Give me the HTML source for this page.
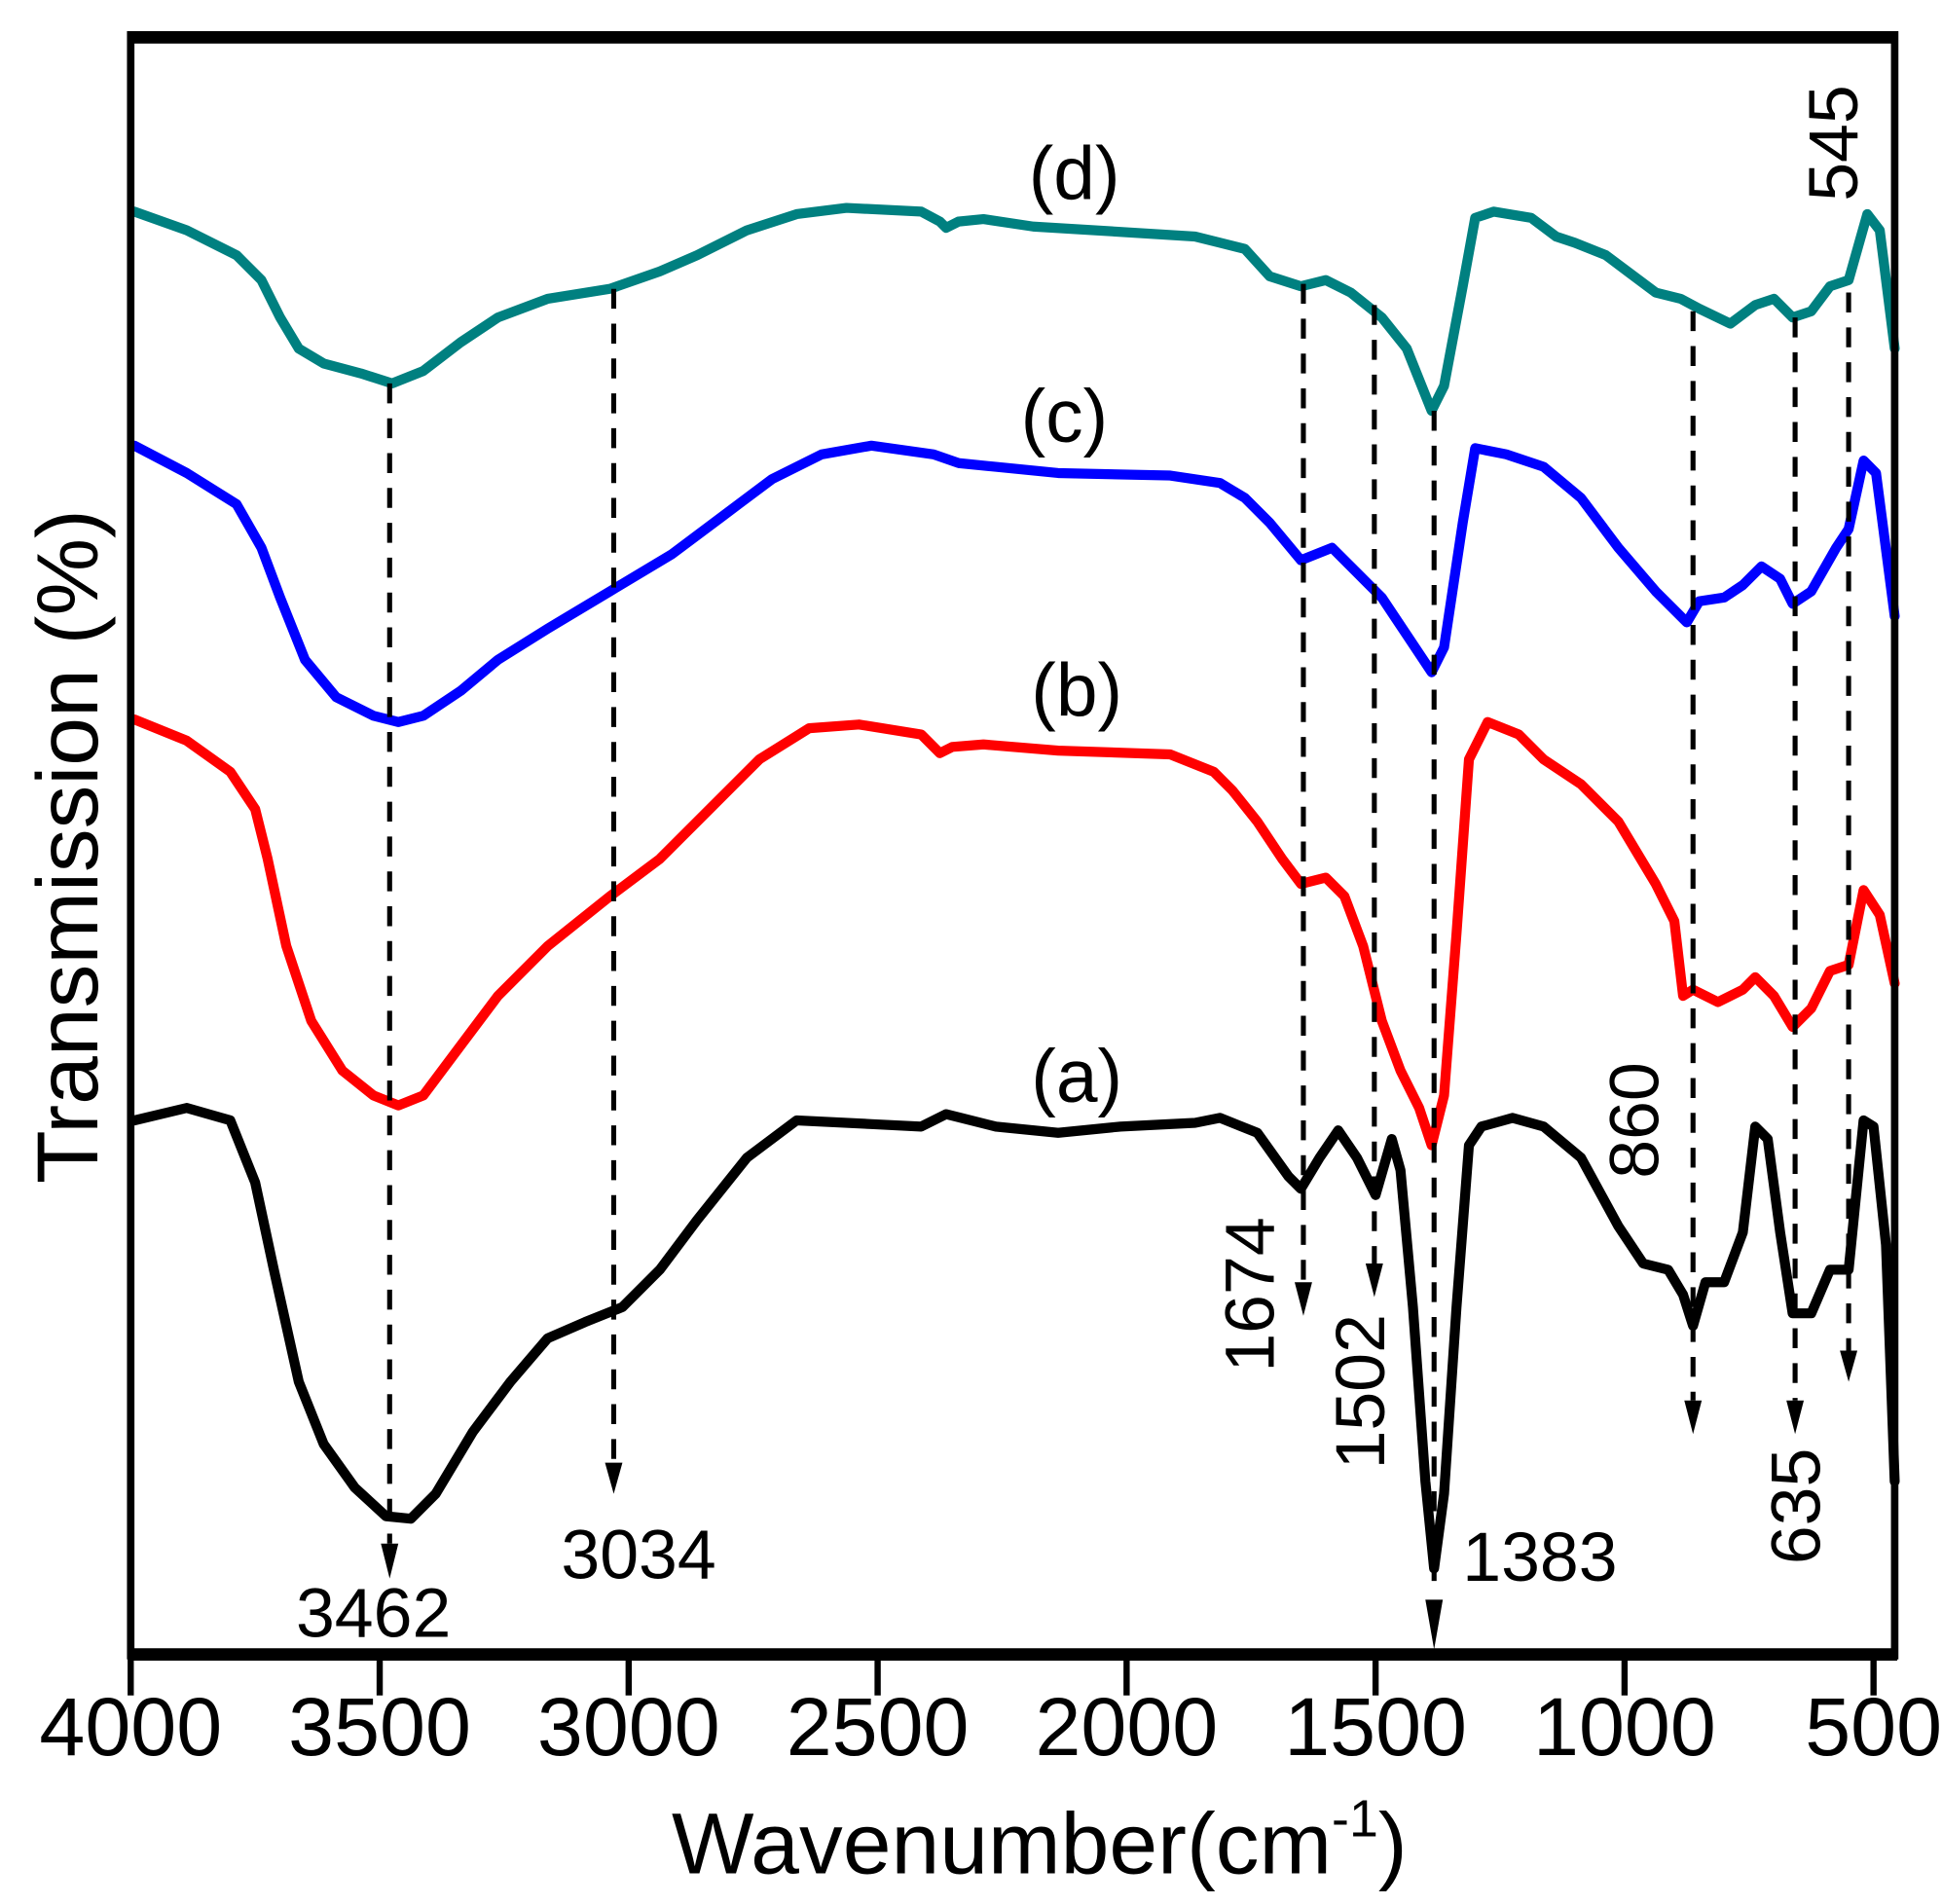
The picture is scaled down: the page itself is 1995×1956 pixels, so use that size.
<!DOCTYPE html>
<html><head><style>html,body{margin:0;padding:0;background:#fff}svg{display:block}</style></head>
<body>
<svg width="1995" height="1956" viewBox="0 0 1560 1529.5" preserveAspectRatio="none" xmlns="http://www.w3.org/2000/svg" font-family="Liberation Sans, Arial, sans-serif">
<rect width="1560" height="1530" fill="#fff"/>
<g fill="none" stroke-linejoin="round" stroke-linecap="round" stroke-width="8">
<polyline stroke="#008080" points="108,170 150,185 190,205 210,225 225,255 240,280 260,292 290,300 315,308 340,298 370,275 400,255 440,240 490,232 530,218 560,205 600,185 640,172 680,167 740,170 755,178 760,183 770,178 790,176 830,182 880,185 960,190 1000,200 1020,222 1045,230 1065,225 1085,235 1110,255 1130,280 1150,330 1160,310 1175,230 1185,175 1200,170 1230,175 1250,190 1265,195 1290,205 1310,220 1330,235 1350,240 1365,248 1390,260 1410,245 1425,240 1440,255 1455,250 1470,230 1485,225 1500,172 1510,185 1522,280"/>
<polyline stroke="#0000ff" points="108,358 150,380 190,405 210,440 225,480 245,530 270,560 300,575 320,580 340,575 370,555 400,530 440,505 490,475 540,445 580,415 620,385 660,365 700,358 750,365 770,372 800,375 850,380 940,382 980,388 1000,400 1020,420 1045,450 1070,440 1090,460 1110,480 1130,510 1150,540 1160,520 1175,420 1185,360 1210,365 1240,375 1270,400 1300,440 1330,475 1355,500 1365,483 1385,480 1400,470 1415,455 1430,465 1440,485 1455,475 1475,440 1485,425 1497,370 1507,380 1522,495"/>
<polyline stroke="#ff0000" points="108,578 150,595 185,620 205,650 215,690 230,760 250,820 275,860 300,880 320,888 340,880 370,840 400,800 440,760 490,720 530,690 570,650 610,610 650,585 690,582 740,590 755,605 765,600 790,598 850,603 940,606 975,620 990,635 1010,660 1030,690 1045,710 1065,705 1080,720 1095,760 1110,820 1125,860 1140,890 1150,920 1160,880 1170,750 1180,610 1195,580 1220,590 1240,610 1270,630 1300,660 1330,710 1345,740 1352,800 1360,795 1380,805 1400,795 1410,785 1425,800 1440,825 1455,810 1470,780 1485,775 1497,715 1510,735 1522,790"/>
<polyline stroke="#000" points="108,900 150,890 185,900 205,950 220,1020 240,1110 260,1160 285,1195 310,1218 330,1220 350,1200 380,1150 410,1110 440,1075 470,1062 500,1050 530,1020 560,980 600,930 640,900 700,903 740,905 760,895 800,905 850,910 900,905 960,902 980,898 1010,910 1035,945 1045,955 1060,930 1075,908 1090,930 1105,960 1118,915 1125,940 1135,1050 1145,1190 1152,1260 1160,1200 1170,1050 1180,920 1190,905 1215,898 1240,905 1270,930 1300,985 1320,1015 1340,1020 1352,1040 1360,1065 1370,1030 1385,1030 1400,990 1410,905 1420,915 1430,990 1440,1055 1455,1055 1470,1020 1485,1020 1497,900 1505,905 1515,1000 1522,1190"/>
</g>
<g stroke="#000" stroke-width="4" stroke-dasharray="16,12">
<line x1="313" y1="308" x2="313" y2="1240"/>
<line x1="493" y1="232" x2="493" y2="1175"/>
<line x1="1047" y1="228" x2="1047" y2="1030"/>
<line x1="1104" y1="245" x2="1104" y2="1015"/>
<line x1="1152" y1="330" x2="1152" y2="1275"/>
<line x1="1360" y1="250" x2="1360" y2="1125"/>
<line x1="1442" y1="255" x2="1442" y2="1125"/>
<line x1="1485" y1="235" x2="1485" y2="1085"/>
</g>
<g fill="#000">
<polygon points="306,1240 320,1240 313,1268"/>
<polygon points="486,1175 500,1175 493,1200"/>
<polygon points="1040,1030 1054,1030 1047,1057"/>
<polygon points="1097,1015 1111,1015 1104,1042"/>
<polygon points="1145,1285 1159,1285 1152,1325"/>
<polygon points="1353,1125 1367,1125 1360,1152"/>
<polygon points="1435,1125 1449,1125 1442,1152"/>
<polygon points="1478,1085 1492,1085 1485,1110"/>
</g>
<g fill="none" stroke="#000" stroke-width="6">
<rect x="105" y="28" width="1417" height="1302"/>
</g>
<g stroke="#000" stroke-width="10">
<line x1="103" y1="30" x2="1524" y2="30"/>
<line x1="103" y1="1329" x2="1524" y2="1329"/>
</g>
<g stroke="#000" stroke-width="5">
<line x1="105" y1="1330" x2="105" y2="1362"/>
<line x1="305" y1="1330" x2="305" y2="1362"/>
<line x1="505" y1="1330" x2="505" y2="1362"/>
<line x1="705" y1="1330" x2="705" y2="1362"/>
<line x1="905" y1="1330" x2="905" y2="1362"/>
<line x1="1105" y1="1330" x2="1105" y2="1362"/>
<line x1="1305" y1="1330" x2="1305" y2="1362"/>
<line x1="1505" y1="1330" x2="1505" y2="1362"/>
</g>
<g font-size="66" text-anchor="middle" fill="#000">
<text x="105" y="1410">4000</text><text x="305" y="1410">3500</text><text x="505" y="1410">3000</text><text x="705" y="1410">2500</text><text x="905" y="1410">2000</text><text x="1105" y="1410">1500</text><text x="1305" y="1410">1000</text><text x="1505" y="1410">500</text>
</g>
<text x="835" y="1505" font-size="70" text-anchor="middle">Wavenumber(cm<tspan font-size="42" dy="-30">-1</tspan><tspan dy="30">)</tspan></text>
<text transform="translate(78,680) rotate(-90)" font-size="70" text-anchor="middle">Transmission (%)</text>
<g font-size="56" text-anchor="middle" fill="#000">
<text x="300" y="1315">3462</text>
<text x="513" y="1268">3034</text>
<text x="1237" y="1270">1383</text>
<text transform="translate(1023,1040) rotate(-90)">1674</text>
<text transform="translate(1112,1118) rotate(-90)">1502</text>
<text transform="translate(1332,900) rotate(-90)">860</text>
<text transform="translate(1462,1210) rotate(-90)">635</text>
<text transform="translate(1492,115) rotate(-90)">545</text>
</g>
<g font-size="60" text-anchor="middle" fill="#000">
<text x="865" y="885">(a)</text>
<text x="865" y="575">(b)</text>
<text x="855" y="355">(c)</text>
<text x="863" y="160">(d)</text>
</g>
</svg>
</body></html>
